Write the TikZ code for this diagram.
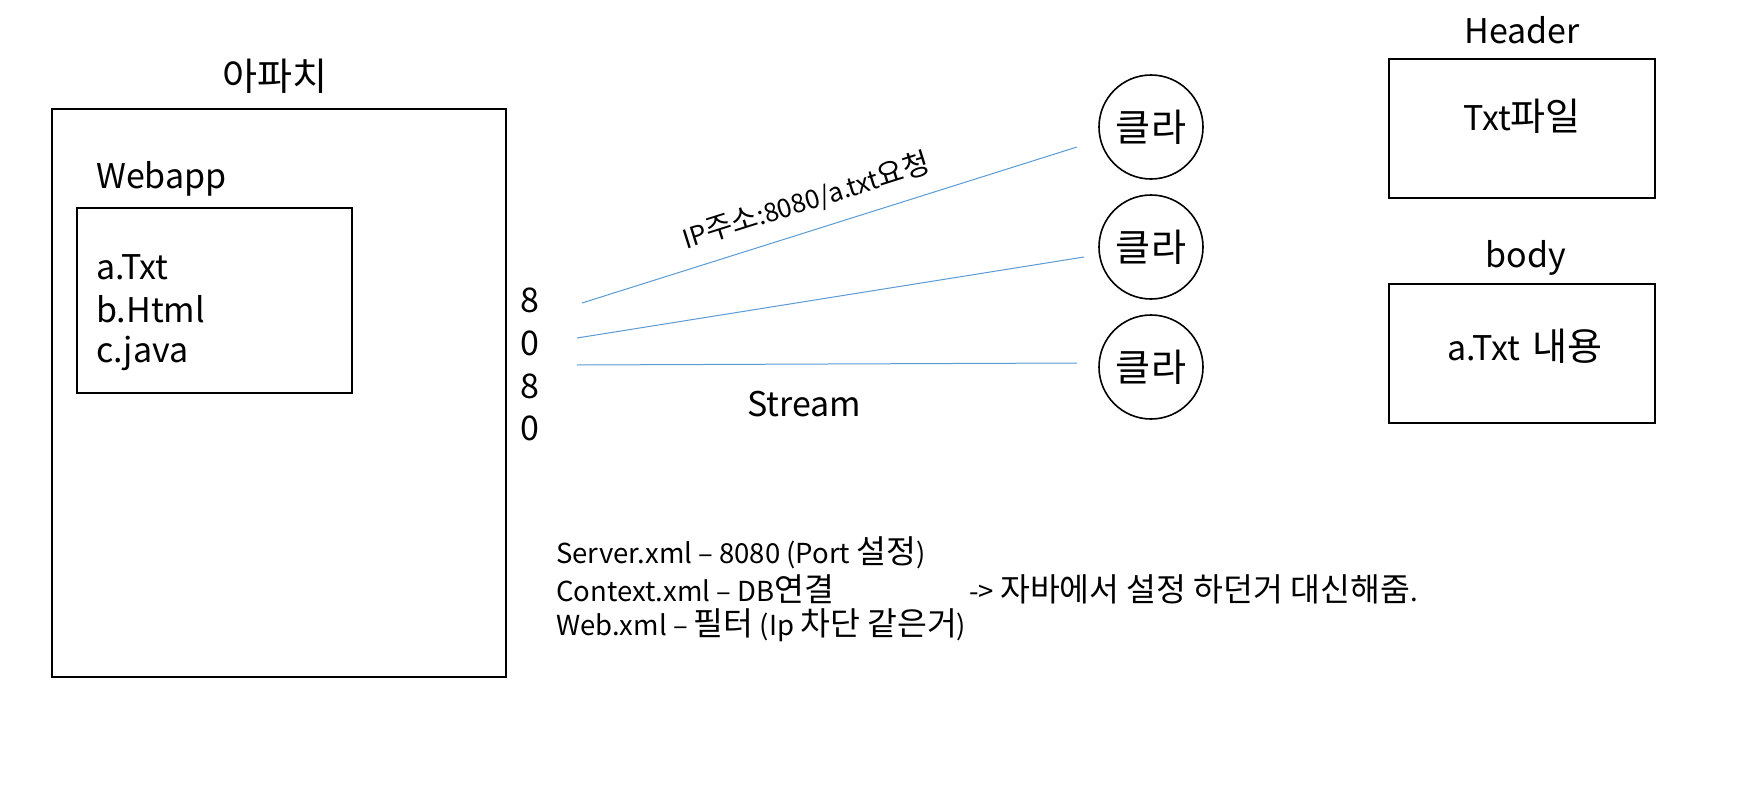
\documentclass[tikz,border=0pt]{standalone}
\usepackage{fontspec}
\setmainfont{Noto Sans CJK KR}
\newfontfamily\hangulfont[Scale=1.12]{Noto Sans CJK KR}
\newfontfamily\hangulsmall[Scale=1.18]{Noto Sans CJK KR}
\newcommand{\hg}[1]{{\hangulfont #1}}
\newcommand{\hs}[1]{{\hangulsmall #1}}
\definecolor{linkblue}{RGB}{91,155,213}
\begin{document}
\begin{tikzpicture}[x=1pt,y=-1pt,
  box/.style={draw, line width=1.6pt, rectangle, anchor=north west, inner sep=0pt},
  big/.style={font=\fontsize{34}{40}\selectfont, inner sep=0pt},
  small/.style={font=\fontsize{27.5}{36}\selectfont, inner sep=0pt, anchor=west},
  client/.style={draw, line width=1.6pt, circle, minimum size=104pt, inner sep=0pt, font=\fontsize{34}{40}\selectfont},
  link/.style={draw=linkblue, line width=1pt}]
\useasboundingbox[fill=white] (0,0) rectangle (1743,792);

% Apache
\node[big] (apachelbl) at (275,76) {\hg{아파치}};
\node[box, minimum width=454pt, minimum height=568pt] (apache) at (51,108) {};
\node[big, anchor=west] (webapplbl) at (96,179) {Webapp};
\node[box, minimum width=275pt, minimum height=185pt] (webapp) at (76,207) {};
\node[big, anchor=west] (fa) at (96,267) {a.Txt};
\node[big, anchor=west] (fb) at (96,309) {b.Html};
\node[big, anchor=west] (fc) at (96,353) {c.java};

% port digits
\node[big] (d1) at (530,300) {8};
\node[big] (d2) at (530,343) {0};
\node[big] (d3) at (530,386) {8};
\node[big] (d4) at (530,428) {0};

% clients
\node[client] (c1) at (1151,127) {\hg{클라}};
\node[client] (c2) at (1151,247) {\hg{클라}};
\node[client] (c3) at (1151,367) {\hg{클라}};

% connectors
\coordinate (s1) at (582,303);
\coordinate (e1) at (1077,147);
\coordinate (s2) at (577,338);
\coordinate (e2) at (1084,257);
\coordinate (s3) at (577,365);
\coordinate (e3) at (1077,363);
\draw[link] (s1) -- (e1);
\draw[link] (s2) -- (e2);
\draw[link] (s3) -- (e3);

\node[font=\fontsize{26}{30}\selectfont, inner sep=0pt, rotate=17.5] (req) at (806,201) {IP\hg{주소}:8080/a.txt\hg{요청}};
\node[big] (stream) at (804,404) {Stream};

% header / body
\node[big] (hdrlbl) at (1522,30) {Header};
\node[box, minimum width=266pt, minimum height=139pt] (hdr) at (1388,58) {};
\node[big] (hdrtxt) at (1522,116) {Txt\hg{파일}};
\node[big] (bodylbl) at (1526,258) {body};
\node[box, minimum width=266pt, minimum height=139pt] (body) at (1388,283) {};
\node[big] (bodytxt) at (1525,346) {a.Txt\hspace{0.35em}\hg{내용}};

% notes
\node[small] (n1) at (556,553) {Server.xml – 8080 (Port \hs{설정})};
\node[small] (n2) at (556,589) {Context.xml – DB\hs{연결}};
\node[small] (n3) at (556,625) {Web.xml – \hs{필터} (Ip \hs{차단 같은거})};
\node[small] (n4) at (969,589) {-> \hs{자바에서 설정 하던거 대신해줌}.};
\end{tikzpicture}
\end{document}
